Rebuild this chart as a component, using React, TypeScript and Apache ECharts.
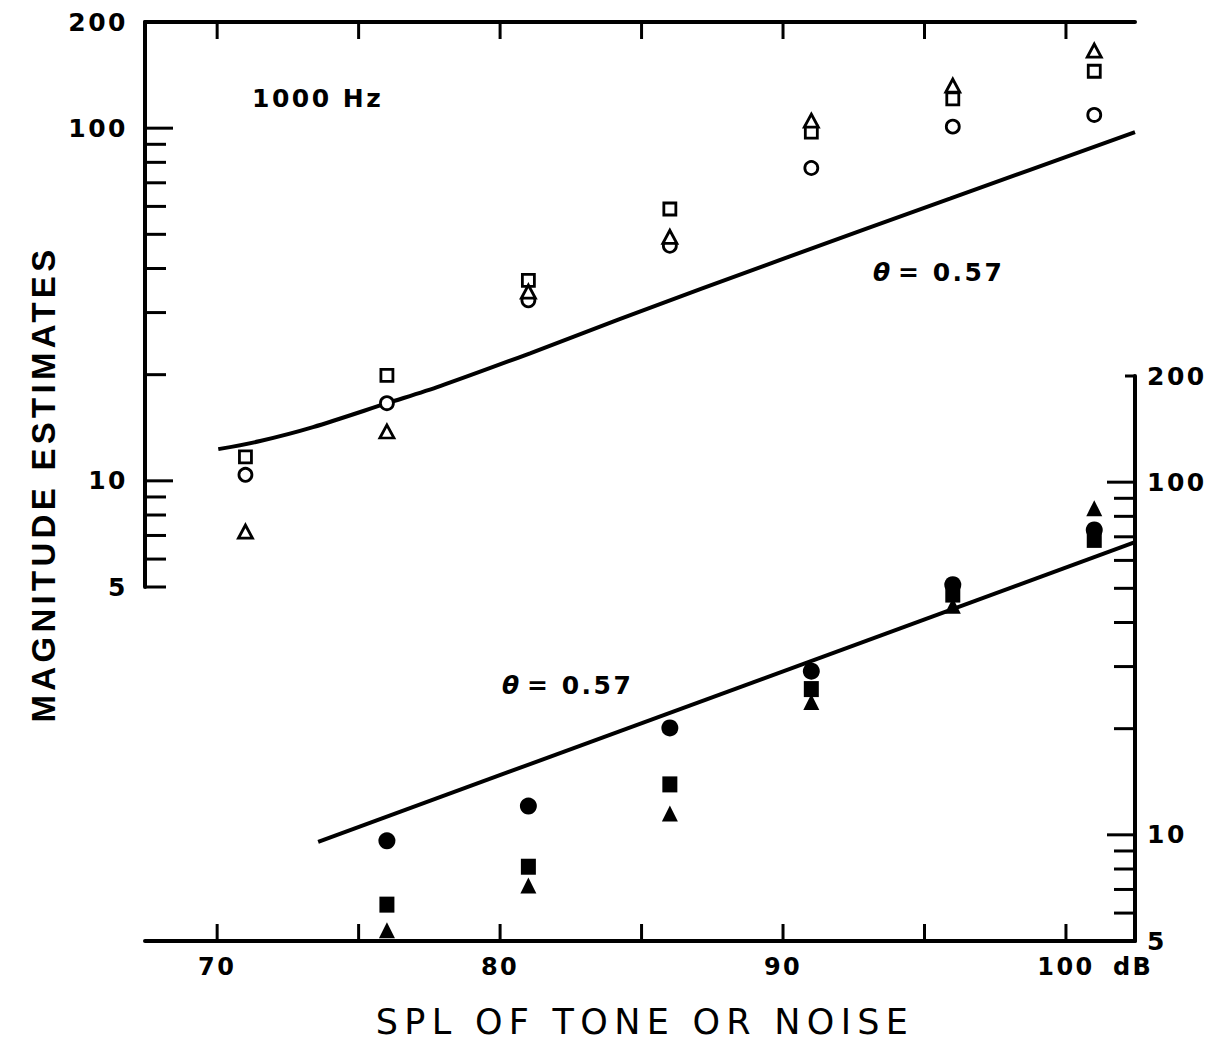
import React, { useEffect, useRef } from "react";
import * as echarts from "echarts";

// ---------- data ----------
const topDb = [71, 76, 81, 86, 91, 96, 101];
const topCircles = [10.4, 16.6, 32.5, 46.4, 77.1, 101, 109];
const topSquares = [11.7, 19.9, 37.0, 59.0, 97.4, 121, 145];
const topTriangles = [7.18, 13.8, 34.4, 49.2, 105, 132, 166];

const bottomDb = [76, 81, 86, 91, 96, 101];
const bottomCircles = [9.62, 12.07, 20.1, 29.1, 51.2, 73.2];
const bottomSquares = [6.34, 8.12, 13.9, 25.9, 48.0, 68.6];
const bottomTriangles = [5.36, 7.18, 11.5, 23.8, 44.6, 84.4];

const topLineDb = [70.04, 71.52, 73.39, 76.01, 77.88, 81.06, 84.2, 90, 95.9, 102.44];
const topLineVal = [12.3, 12.97, 14.2, 16.6, 18.56, 23.0, 28.7, 42.6, 63.1, 97.5];
const bottomLineDb = [73.57, 102.44];
const bottomLineVal = [9.55, 67.6];

const xTickValues = [70, 75, 80, 85, 90, 95, 100];
const xLabelValues = [70, 80, 90, 100];
const xLabelTexts = ["70", "80", "90", "100"];
const xUnit = "dB";
const yMajorTicks = [10, 100];
const yMinorTicks = [5, 6, 7, 8, 9, 20, 30, 40, 50, 60, 70, 80, 90];
const yRightMinorTicks = [6, 7, 8, 9, 20, 30, 40, 50, 60, 70, 80, 90];
const yRightCapTicks = [200];

const thetaSymbol = "θ";
const thetaValue = "= 0.57";

const X_MIN = 67.45;
const X_MAX = 102.44;
const Y_MIN = 5;
const Y_MAX = 200;

const BLACK = "#000";
const NUM_FONT = "DejaVu Sans";

const zip = (xs: number[], ys: number[]) => xs.map((x, i) => [x, ys[i]]);

type Side = "left" | "right" | "top" | "bottom";

function tickSeries(values: number[], side: Side, len: number, width = 3) {
  const grid = side === "left" || side === "top" ? 0 : 1;
  const data = values.map((v) => {
    if (side === "left") return [X_MIN, v];
    if (side === "right") return [X_MAX, v];
    if (side === "top") return [v, Y_MAX];
    return [v, Y_MIN];
  });
  return {
    type: "custom",
    xAxisIndex: grid,
    yAxisIndex: grid,
    silent: true,
    clip: false,
    z: 5,
    data,
    renderItem: (_p: any, api: any) => {
      const pt = api.coord([api.value(0), api.value(1)]);
      let x2 = pt[0];
      let y2 = pt[1];
      if (side === "left") x2 += len;
      if (side === "right") x2 -= len;
      if (side === "top") y2 += len;
      if (side === "bottom") y2 -= len;
      return {
        type: "line",
        shape: { x1: pt[0], y1: pt[1], x2, y2 },
        style: { stroke: BLACK, lineWidth: width },
      };
    },
  };
}

const xLabelSeries = {
  type: "custom",
  xAxisIndex: 1,
  yAxisIndex: 1,
  silent: true,
  clip: false,
  data: xLabelValues.map((v) => [v, Y_MIN]),
  renderItem: (params: any, api: any) => {
    const pt = api.coord([api.value(0), api.value(1)]);
    const idx = params.dataIndex;
    const children: any[] = [
      {
        type: "text",
        x: pt[0],
        y: pt[1] + 26,
        style: {
          text: xLabelTexts[idx],
          fill: BLACK,
          fontSize: 24,
          fontFamily: NUM_FONT,
          fontWeight: "bold",
          align: "center",
          verticalAlign: "middle",
        },
      },
    ];
    if (idx === xLabelTexts.length - 1) {
      children.push({
        type: "text",
        x: pt[0] + 47,
        y: pt[1] + 26,
        style: {
          text: xUnit,
          fill: BLACK,
          fontSize: 24,
          fontFamily: NUM_FONT,
          fontWeight: "bold",
          align: "left",
          verticalAlign: "middle",
        },
      });
    }
    return { type: "group", children };
  },
};

const axisLine = { show: true, onZero: false, lineStyle: { color: BLACK, width: 4 } };
const yLabel = {
  color: BLACK,
  fontSize: 25,
  fontFamily: NUM_FONT,
  fontWeight: "bold" as const,
  showMinLabel: true,
  showMaxLabel: true,
};

const openStyle = { color: "#fff", borderColor: BLACK, borderWidth: 2.8, opacity: 1 };
const filledStyle = { color: BLACK, borderColor: BLACK, borderWidth: 0, opacity: 1 };

function thetaLabel(left: number, top: number) {
  return [
    {
      type: "text",
      left,
      top,
      style: {
        text: thetaSymbol,
        fill: BLACK,
        fontSize: 25,
        fontFamily: NUM_FONT,
        fontWeight: "bold",
        fontStyle: "italic",
      },
    },
    {
      type: "text",
      left: left + 25,
      top,
      style: {
        text: thetaValue,
        fill: BLACK,
        fontSize: 25,
        fontFamily: NUM_FONT,
        fontWeight: "bold",
      },
    },
  ];
}

const option: any = {
  animation: false,
  backgroundColor: "#fff",
  grid: [
    { left: 145, top: 22, width: 990, height: 565 },
    { left: 145, top: 376, width: 990, height: 565 },
  ],
  xAxis: [
    {
      gridIndex: 0,
      type: "value",
      min: X_MIN,
      max: X_MAX,
      position: "top",
      axisLine,
      axisTick: { show: false },
      axisLabel: { show: false },
      splitLine: { show: false },
    },
    {
      gridIndex: 1,
      type: "value",
      min: X_MIN,
      max: X_MAX,
      position: "bottom",
      axisLine,
      axisTick: { show: false },
      axisLabel: { show: false },
      splitLine: { show: false },
    },
  ],
  yAxis: [
    {
      gridIndex: 0,
      type: "log",
      logBase: 10,
      min: Y_MIN,
      max: Y_MAX,
      position: "left",
      axisLine,
      axisTick: { show: false },
      axisLabel: { ...yLabel, margin: 17 },
      splitLine: { show: false },
      minorTick: { show: false },
    },
    {
      gridIndex: 1,
      type: "log",
      logBase: 10,
      min: Y_MIN,
      max: Y_MAX,
      position: "right",
      axisLine,
      axisTick: { show: false },
      axisLabel: { ...yLabel, margin: 12 },
      splitLine: { show: false },
      minorTick: { show: false },
    },
  ],
  graphic: [
    {
      type: "text",
      left: 252,
      top: 86,
      style: {
        text: "1000 Hz",
        fill: BLACK,
        fontSize: 25,
        fontFamily: NUM_FONT,
        fontWeight: "bold",
      },
    },
    ...thetaLabel(873, 260),
    ...thetaLabel(502, 673),
    {
      type: "text",
      x: 43,
      y: 484,
      rotation: Math.PI / 2,
      style: {
        text: "MAGNITUDE ESTIMATES",
        fill: BLACK,
        fontSize: 33,
        fontFamily: "Liberation Sans",
        fontWeight: "bold",
        align: "center",
        verticalAlign: "middle",
      },
    },
    {
      type: "text",
      x: 645,
      y: 1022,
      style: {
        text: "SPL OF TONE OR NOISE",
        fill: BLACK,
        fontSize: 35,
        fontFamily: "DejaVu Sans",
        align: "center",
        verticalAlign: "middle",
      },
    },
  ],
  series: [
    tickSeries(yMajorTicks, "left", 28),
    tickSeries(yMinorTicks, "left", 21),
    tickSeries(yMajorTicks, "right", 28),
    tickSeries(yRightMinorTicks, "right", 21),
    tickSeries(yRightCapTicks, "right", 10),
    tickSeries(xTickValues, "top", 17),
    tickSeries(xTickValues, "bottom", 17),
    xLabelSeries,
    {
      name: "fit (tone)",
      type: "line",
      xAxisIndex: 0,
      yAxisIndex: 0,
      data: zip(topLineDb, topLineVal),
      smooth: 0.3,
      showSymbol: false,
      symbol: "none",
      lineStyle: { color: BLACK, width: 4 },
      z: 2,
    },
    {
      name: "fit (noise)",
      type: "line",
      xAxisIndex: 1,
      yAxisIndex: 1,
      data: zip(bottomLineDb, bottomLineVal),
      showSymbol: false,
      symbol: "none",
      lineStyle: { color: BLACK, width: 4 },
      z: 2,
    },
    {
      name: "open circle",
      type: "scatter",
      xAxisIndex: 0,
      yAxisIndex: 0,
      symbol: "circle",
      symbolSize: 13,
      itemStyle: openStyle,
      data: zip(topDb, topCircles),
      z: 3,
    },
    {
      name: "open square",
      type: "scatter",
      xAxisIndex: 0,
      yAxisIndex: 0,
      symbol: "rect",
      symbolSize: 12,
      itemStyle: openStyle,
      data: zip(topDb, topSquares),
      z: 3,
    },
    {
      name: "open triangle",
      type: "scatter",
      xAxisIndex: 0,
      yAxisIndex: 0,
      symbol: "triangle",
      symbolSize: [14, 13],
      itemStyle: openStyle,
      data: zip(topDb, topTriangles),
      z: 3,
    },
    {
      name: "filled circle",
      type: "scatter",
      xAxisIndex: 1,
      yAxisIndex: 1,
      symbol: "circle",
      symbolSize: 17,
      itemStyle: filledStyle,
      data: zip(bottomDb, bottomCircles),
      z: 3,
    },
    {
      name: "filled square",
      type: "scatter",
      xAxisIndex: 1,
      yAxisIndex: 1,
      symbol: "rect",
      symbolSize: [15, 16],
      itemStyle: filledStyle,
      data: zip(bottomDb, bottomSquares),
      z: 3,
    },
    {
      name: "filled triangle",
      type: "scatter",
      xAxisIndex: 1,
      yAxisIndex: 1,
      symbol: "triangle",
      symbolSize: [16, 16],
      itemStyle: filledStyle,
      data: zip(bottomDb, bottomTriangles),
      z: 3,
    },
  ],
};

export default function App() {
  const ref = useRef<HTMLDivElement>(null);
  useEffect(() => {
    if (!ref.current) return;
    const chart = echarts.init(ref.current, null, { renderer: "svg" });
    chart.setOption(option);
    return () => chart.dispose();
  }, []);
  return (
    <>
      <style>{`body{margin:0;}
.fig svg text{letter-spacing:0.1em;}
.fig svg text[style*="35px"]{letter-spacing:0.18em;}
.fig svg text[style*="33px"]{letter-spacing:0.13em;}`}</style>
      <div
        ref={ref}
        className="fig"
        style={{ position: "absolute", left: 0, top: 0, width: 1209, height: 1044, background: "#fff" }}
      />
    </>
  );
}
